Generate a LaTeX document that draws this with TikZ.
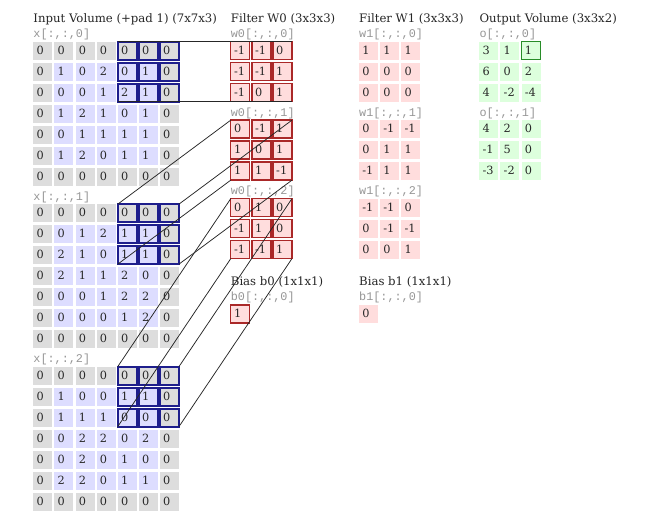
\documentclass[tikz,border=0pt]{standalone}
\usepackage{fontspec}
\setmainfont{DejaVu Serif}
\newfontfamily\labmono{Liberation Mono}
\definecolor{gcell}{RGB}{221,221,221}
\definecolor{bcell}{RGB}{221,221,255}
\definecolor{pcell}{RGB}{255,221,221}
\definecolor{ocell}{RGB}{221,255,221}
\definecolor{hlblue}{RGB}{30,30,140}
\definecolor{hlred}{RGB}{170,40,40}
\definecolor{hlgreen}{RGB}{40,140,40}
\definecolor{txt}{RGB}{40,40,40}
\definecolor{labgray}{RGB}{150,150,150}
\begin{document}
\begin{tikzpicture}[x=1pt,y=-1pt,
  cell/.style={anchor=north west, minimum width=19pt, minimum height=18pt,
    inner xsep=3.3pt, inner ysep=0pt, text width=12.4pt, align=left,
    text height=7.8pt, text depth=0.4pt, outer sep=0pt,
    font=\fontsize{11.3}{13}\selectfont, text=txt},
  incell/.style={cell, fill=#1},
  bluebox/.style={draw=hlblue, line width=1.8pt},
  redcell/.style={cell, fill=pcell, draw=hlred, line width=1.4pt},
  pinkcell/.style={cell, fill=pcell},
  greencell/.style={cell, fill=ocell},
  greenbox/.style={draw=hlgreen, line width=1.4pt},
  title/.style={anchor=base west, inner sep=0pt, font=\fontsize{11.7}{14}\selectfont, text=black!85},
  slicelab/.style={anchor=base west, inner sep=0pt, font=\labmono\fontsize{11.8}{13}\selectfont, text=labgray},
  conn/.style={draw=black!85, line width=0.75pt}
]
\useasboundingbox (0,0) rectangle (657,532);
\fill[white] (0,0) rectangle (657,532);

% titles
\node[title] (tin) at (33.3,22.5) {Input Volume (+pad 1) (7x7x3)};
\node[title] (tw0) at (230.7,22.5) {Filter W0 (3x3x3)};
\node[title] (tw1) at (359,22.5) {Filter W1 (3x3x3)};
\node[title] (tout) at (479.3,22.5) {Output Volume (3x3x2)};
\node[title] (tb0) at (230.7,286) {Bias b0 (1x1x1)};
\node[title] (tb1) at (359,286) {Bias b1 (1x1x1)};

% input volume
\foreach [count=\k from 0] \slice in {
  {{0,0,0,0,0,0,0},{0,1,0,2,0,1,0},{0,0,0,1,2,1,0},{0,1,2,1,0,1,0},{0,0,1,1,1,1,0},{0,1,2,0,1,1,0},{0,0,0,0,0,0,0}},
  {{0,0,0,0,0,0,0},{0,0,1,2,1,1,0},{0,2,1,0,1,1,0},{0,2,1,1,2,0,0},{0,0,0,1,2,2,0},{0,0,0,0,1,2,0},{0,0,0,0,0,0,0}},
  {{0,0,0,0,0,0,0},{0,1,0,0,1,1,0},{0,1,1,1,0,0,0},{0,0,2,2,0,2,0},{0,0,2,0,1,0,0},{0,2,2,0,1,1,0},{0,0,0,0,0,0,0}}}
{
  \node[slicelab] (xl\k) at (33.3,{37.7+162.5*\k}) {x[:,:,\k]};
  \foreach [count=\r from 0] \row in \slice {
    \foreach [count=\c from 0] \v in \row {
      \pgfmathtruncatemacro\isborder{(\r==0 || \r==6 || \c==0 || \c==6) ? 1 : 0}
      \pgfmathtruncatemacro\ishl{(\r<3 && \c>3) ? 1 : 0}
      \ifnum\isborder=1 \def\cf{gcell}\else\def\cf{bcell}\fi
      \ifnum\ishl=1
        \node[incell=\cf, bluebox] (i\k-\r-\c) at ({33.3+21.1*\c},{41.7+162.5*\k+21*\r}) {\v};
      \else
        \node[incell=\cf] (i\k-\r-\c) at ({33.3+21.1*\c},{41.7+162.5*\k+21*\r}) {\v};
      \fi
    }
  }
}

% filter W0
\foreach [count=\k from 0] \slice in {
  {{-1,-1,0},{-1,-1,1},{-1,0,1}},
  {{0,-1,1},{1,0,1},{1,1,-1}},
  {{0,1,0},{-1,1,0},{-1,-1,1}}}
{
  \node[slicelab] (wal\k) at (230.7,{37.7+78.5*\k}) {w0[:,:,\k]};
  \foreach [count=\r from 0] \row in \slice {
    \foreach [count=\c from 0] \v in \row {
      \node[redcell] (wa\k-\r-\c) at ({230.7+21.1*\c},{41.7+78.5*\k+21*\r}) {\v};
    }
  }
}

% filter W1
\foreach [count=\k from 0] \slice in {
  {{1,1,1},{0,0,0},{0,0,0}},
  {{0,-1,-1},{0,1,1},{-1,1,1}},
  {{-1,-1,0},{0,-1,-1},{0,0,1}}}
{
  \node[slicelab] (wbl\k) at (359,{37.7+78.5*\k}) {w1[:,:,\k]};
  \foreach [count=\r from 0] \row in \slice {
    \foreach [count=\c from 0] \v in \row {
      \node[pinkcell] (wb\k-\r-\c) at ({359+21.1*\c},{41.7+78.5*\k+21*\r}) {\v};
    }
  }
}

% output
\foreach [count=\k from 0] \slice in {
  {{3,1,1},{6,0,2},{4,-2,-4}},
  {{4,2,0},{-1,5,0},{-3,-2,0}}}
{
  \node[slicelab] (ol\k) at (479.3,{37.7+78.5*\k}) {o[:,:,\k]};
  \foreach [count=\r from 0] \row in \slice {
    \foreach [count=\c from 0] \v in \row {
      \pgfmathtruncatemacro\ishl{(\k==0 && \r==0 && \c==2) ? 1 : 0}
      \ifnum\ishl=1
        \node[greencell, greenbox] (o\k-\r-\c) at ({479.3+21.1*\c},{41.7+78.5*\k+21*\r}) {\v};
      \else
        \node[greencell] (o\k-\r-\c) at ({479.3+21.1*\c},{41.7+78.5*\k+21*\r}) {\v};
      \fi
    }
  }
}

% biases
\node[slicelab] (b0l) at (230.7,301) {b0[:,:,0]};
\node[redcell] (b0) at (230.7,305) {1};
\node[slicelab] (b1l) at (359,301) {b1[:,:,0]};
\node[pinkcell] (b1) at (359,305) {0};

% connectors
\foreach \k in {0,1,2} {
  \draw[conn] (i\k-0-4.north west) -- (wa\k-0-0.north west);
  \draw[conn] (i\k-0-6.north east) -- (wa\k-0-2.north east);
  \draw[conn] (i\k-2-4.south west) -- (wa\k-2-0.south west);
  \draw[conn] (i\k-2-6.south east) -- (wa\k-2-2.south east);
}
\end{tikzpicture}
\end{document}
